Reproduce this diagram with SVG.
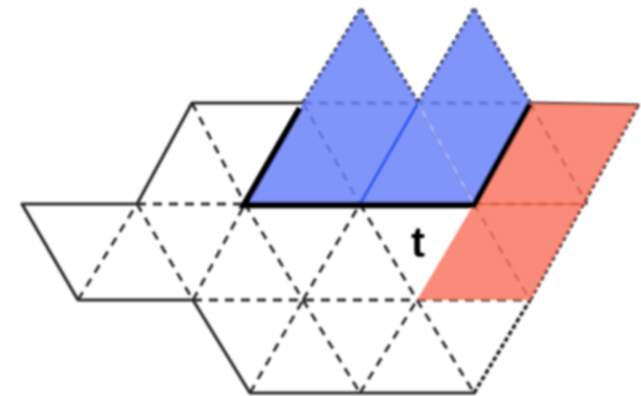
<svg xmlns="http://www.w3.org/2000/svg" width="641" height="396" viewBox="0 0 641 396">
  <defs>
    <style>
      .s { fill: none; stroke: #2a2a2a; stroke-width: 3.2; stroke-linecap: round; stroke-linejoin: round; }
      .d { fill: none; stroke: #2a2a2a; stroke-width: 2.8; stroke-dasharray: 9 7; }
      .dt { fill: none; stroke: #222; stroke-width: 3.6; stroke-dasharray: 5 2.5; }
      .blue { fill: rgb(106,131,249); fill-opacity: 0.85; stroke: none; }
      .red { fill: rgb(249,118,97); fill-opacity: 0.85; stroke: none; }
      .thick { fill: none; stroke: #000; stroke-width: 6.5; stroke-linecap: butt; stroke-linejoin: miter; }
      .lbl { font-family: "Liberation Sans", Arial, sans-serif; font-weight: bold; font-size: 42px; fill: #000; }
    </style>
    <filter id="soft" x="-5%" y="-5%" width="110%" height="110%">
      <feGaussianBlur stdDeviation="0.8"/>
    </filter>
  </defs>
  <rect width="641" height="396" fill="#fff"/>
  <g filter="url(#soft)">
    <g id="connectors">
      <!-- outer solid boundary -->
      <polyline class="s" points="303,103 192,103 137,204 22,204 78,300 193,300 250,393 474,393"/>
      <line class="s" x1="530" y1="103" x2="638" y2="105"/>
      <!-- dashed horizontals -->
      <line class="d" x1="303" y1="103" x2="530" y2="103"/>
      <line class="d" x1="137" y1="204" x2="245" y2="204"/>
      <line class="d" x1="474" y1="204" x2="587" y2="204"/>
      <line class="d" x1="193" y1="300" x2="530" y2="300"/>
      <!-- dashed "/" diagonals -->
      <line class="d" x1="78" y1="300" x2="137" y2="204"/>
      <line class="d" x1="193" y1="300" x2="245" y2="204"/>
      <line class="d" x1="303" y1="300" x2="360" y2="204"/>
      <line class="dt" x1="474" y1="393" x2="530" y2="300"/>
      <line class="dt" x1="530" y1="300" x2="638" y2="105"/>
      <line class="d" x1="250" y1="393" x2="303" y2="300"/>
      <line class="d" x1="360" y1="393" x2="417" y2="300"/>
      <line class="dt" x1="303" y1="103" x2="361" y2="9"/>
      <line class="dt" x1="418" y1="103" x2="474" y2="9"/>
      <!-- dashed "\" diagonals -->
      <line class="d" x1="137" y1="204" x2="193" y2="300"/>
      <line class="d" x1="245" y1="204" x2="303" y2="300"/>
      <line class="d" x1="360" y1="204" x2="417" y2="300"/>
      <line class="d" x1="474" y1="204" x2="530" y2="300"/>
      <line class="d" x1="192" y1="103" x2="245" y2="204"/>
      <line class="d" x1="303" y1="103" x2="360" y2="204"/>
      <line class="d" x1="418" y1="103" x2="474" y2="204"/>
      <line class="d" x1="530" y1="103" x2="587" y2="204"/>
      <line class="d" x1="303" y1="300" x2="360" y2="393"/>
      <line class="d" x1="417" y1="300" x2="474" y2="393"/>
      <line class="dt" x1="361" y1="9" x2="418" y2="103"/>
      <line class="dt" x1="474" y1="9" x2="530" y2="103"/>
    </g>
    <g id="blue-region">
      <polygon class="blue" points="245,204 303,103 361,9 418,103 474,9 530,103 474,204"/>
      <line x1="360" y1="204" x2="418" y2="103" stroke="#2f56f2" stroke-width="3"/>
      <line x1="418" y1="103" x2="474" y2="204" stroke="#fff" stroke-width="0.8" stroke-opacity="0.8"/>
    </g>
    <g id="red-region">
      <polygon class="red" points="530,103 638,105 530,300 417,300 474,204"/>
      <line x1="474" y1="204" x2="587" y2="204" stroke="#e83a20" stroke-width="1"/>
    </g>
    <g id="cut-t">
      <polyline class="thick" points="300,108 244,205 474,205 530,104"/>
      <text class="lbl" x="418" y="257" text-anchor="middle">t</text>
    </g>
  </g>
</svg>
